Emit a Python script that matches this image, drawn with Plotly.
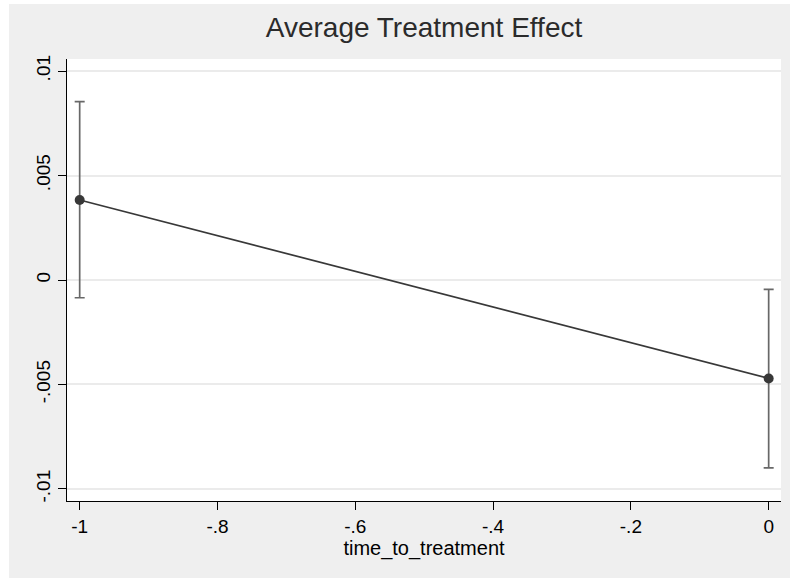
import plotly.graph_objects as go

# Data
time_to_treatment = [-1, 0]
estimate = [0.00383, -0.00471]
ci_lower = [-0.00085, -0.00899]
ci_upper = [0.00854, -0.00045]

x_ticks = [-1, -0.8, -0.6, -0.4, -0.2, 0]
x_tick_labels = ["-1", "-.8", "-.6", "-.4", "-.2", "0"]
y_ticks = [-0.01, -0.005, 0, 0.005, 0.01]
y_tick_labels = ["-.01", "-.005", "0", ".005", ".01"]

err_plus = [u - e for u, e in zip(ci_upper, estimate)]
err_minus = [e - l for e, l in zip(estimate, ci_lower)]

W, H = 790, 578
ML, MR, MT, MB = 67, 9, 59, 77
pw, ph = W - ML - MR, H - MT - MB

FONT = "Liberation Sans, Arial, sans-serif"
BG = "#efefef"

fig = go.Figure()
fig.add_trace(go.Scatter(
    x=time_to_treatment, y=estimate, mode="lines+markers",
    line=dict(color="#383838", width=1.7),
    marker=dict(color="#383838", size=10),
    error_y=dict(type="data", array=err_plus, arrayminus=err_minus,
                 color="#686868", thickness=1.7, width=5),
    showlegend=False,
))

# thin white strips at left and top of the graph region
fig.add_shape(type="rect", xref="paper", yref="paper", layer="below",
              x0=(-5 - ML) / pw, x1=(9 - ML) / pw,
              y0=-0.5, y1=1.5, fillcolor="white", line=dict(width=0))
fig.add_shape(type="rect", xref="paper", yref="paper", layer="below",
              x0=-0.5, x1=1.5,
              y0=(H - MB - 4) / ph, y1=(H - MB + 5) / ph,
              fillcolor="white", line=dict(width=0))

fig.update_layout(
    width=W, height=H,
    margin=dict(l=ML, r=MR, t=MT, b=MB, pad=0),
    paper_bgcolor=BG, plot_bgcolor="white",
    font=dict(family=FONT, color="#000000"),
    title=dict(text="Average Treatment Effect", x=(ML + pw / 2) / W, xanchor="center",
               y=1 - 27 / H, yanchor="middle",
               font=dict(size=28, color="#2b2b2b", family=FONT)),
    xaxis=dict(range=[-1.0184, 0.0179], tickvals=x_ticks, ticktext=x_tick_labels,
               showgrid=False, zeroline=False, showline=True, linecolor="#000000",
               linewidth=1, ticks="outside", ticklen=8, tickcolor="#000000",
               tickfont=dict(size=19, color="#000000"),
               title=dict(text="time_to_treatment", font=dict(size=20, color="#000000"),
                          standoff=0)),
    yaxis=dict(range=[-0.010575, 0.010575], tickvals=y_ticks, ticktext=y_tick_labels,
               showgrid=True, gridcolor="#ebebeb", gridwidth=1.5, zeroline=False,
               showline=True, linecolor="#000000", linewidth=1, ticks="outside",
               ticklen=8, tickcolor="#000000", tickangle=-90,
               tickfont=dict(size=19, color="#000000")),
)

fig.write_html("out.html")
